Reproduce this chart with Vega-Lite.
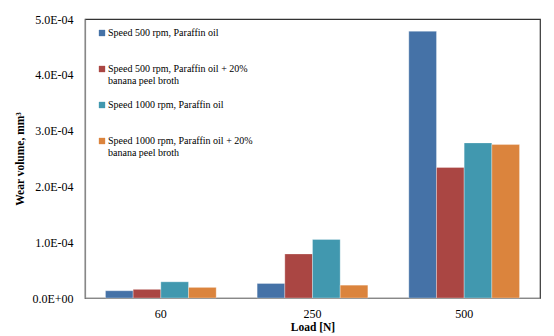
{
  "$schema": "https://vega.github.io/schema/vega-lite/v6.json",
  "autosize": "none",
  "width": 455,
  "height": 279,
  "padding": {"left": 85, "top": 19, "right": 14, "bottom": 38},
  "background": "white",
  "config": {
    "font": "Liberation Serif",
    "view": {"stroke": "#333333", "strokeWidth": 1.2}
  },
  "data": {
    "values": [
      {"load": "60", "series": "Speed 500 rpm, Paraffin oil", "wear": 0.000013},
      {"load": "60", "series": "Speed 500 rpm, Paraffin oil + 20% banana peel broth", "wear": 0.0000155},
      {"load": "60", "series": "Speed 1000 rpm, Paraffin oil", "wear": 0.000029},
      {"load": "60", "series": "Speed 1000 rpm, Paraffin oil + 20% banana peel broth", "wear": 0.000019},
      {"load": "250", "series": "Speed 500 rpm, Paraffin oil", "wear": 0.000026},
      {"load": "250", "series": "Speed 500 rpm, Paraffin oil + 20% banana peel broth", "wear": 0.000079},
      {"load": "250", "series": "Speed 1000 rpm, Paraffin oil", "wear": 0.000105},
      {"load": "250", "series": "Speed 1000 rpm, Paraffin oil + 20% banana peel broth", "wear": 0.000023},
      {"load": "500", "series": "Speed 500 rpm, Paraffin oil", "wear": 0.000478},
      {"load": "500", "series": "Speed 500 rpm, Paraffin oil + 20% banana peel broth", "wear": 0.000234},
      {"load": "500", "series": "Speed 1000 rpm, Paraffin oil", "wear": 0.000278},
      {"load": "500", "series": "Speed 1000 rpm, Paraffin oil + 20% banana peel broth", "wear": 0.000275}
    ]
  },
  "mark": {"type": "bar", "stroke": "#ffffff", "strokeOpacity": 0.5, "strokeWidth": 0.6},
  "encoding": {
    "x": {
      "field": "load",
      "type": "ordinal",
      "sort": ["60", "250", "500"],
      "scale": {"paddingInner": 0.27, "paddingOuter": 0.135},
      "axis": {
        "title": "Load [N]",
        "titleFont": "Liberation Serif",
        "titleFontWeight": "bold",
        "titleFontSize": 11.5,
        "titleColor": "#000",
        "titlePadding": 2,
        "labelFontSize": 12,
        "labelColor": "#000",
        "labelAngle": 0,
        "labelPadding": 10,
        "ticks": false,
        "domainColor": "#888888",
        "domainWidth": 1.2
      }
    },
    "xOffset": {
      "field": "series",
      "type": "nominal",
      "sort": [
        "Speed 500 rpm, Paraffin oil",
        "Speed 500 rpm, Paraffin oil + 20% banana peel broth",
        "Speed 1000 rpm, Paraffin oil",
        "Speed 1000 rpm, Paraffin oil + 20% banana peel broth"
      ],
      "scale": {"paddingInner": 0, "paddingOuter": 0}
    },
    "y": {
      "field": "wear",
      "type": "quantitative",
      "scale": {"domain": [0, 0.0005], "nice": false},
      "axis": {
        "title": "Wear volume, mm³",
        "titleFont": "Liberation Serif",
        "titleFontWeight": "bold",
        "titleFontSize": 11.5,
        "titleColor": "#000",
        "titlePadding": 6,
        "values": [0, 0.0001, 0.0002, 0.0003, 0.0004, 0.0005],
        "labelExpr": "datum.value == 0 ? '0.0E+00' : format(datum.value * 10000, '.1f') + 'E-04'",
        "labelFontSize": 12,
        "labelColor": "#000",
        "labelPadding": 12,
        "ticks": false,
        "grid": false,
        "domainColor": "#888888",
        "domainWidth": 1.2
      }
    },
    "color": {
      "field": "series",
      "type": "nominal",
      "sort": [
        "Speed 500 rpm, Paraffin oil",
        "Speed 500 rpm, Paraffin oil + 20% banana peel broth",
        "Speed 1000 rpm, Paraffin oil",
        "Speed 1000 rpm, Paraffin oil + 20% banana peel broth"
      ],
      "scale": {"range": ["#4572A7", "#AA4643", "#4198AF", "#DB843D"]},
      "legend": {
        "title": null,
        "orient": "none",
        "legendX": 12,
        "legendY": 9,
        "direction": "vertical",
        "symbolType": "square",
        "symbolSize": 40,
        "symbolStrokeWidth": 0,
        "labelFont": "Liberation Serif",
        "labelFontSize": 10,
        "labelColor": "#000",
        "labelOffset": 1,
        "labelLimit": 300,
        "rowPadding": 14,
        "labelExpr": "indexof(datum.label, ' + 20%') > 0 ? [substring(datum.label, 0, indexof(datum.label, ' banana')), 'banana peel broth'] : [datum.label, '']",
        "encode": {"labels": {"update": {"lineHeight": {"value": 13.4}}}}
      }
    }
  }
}
